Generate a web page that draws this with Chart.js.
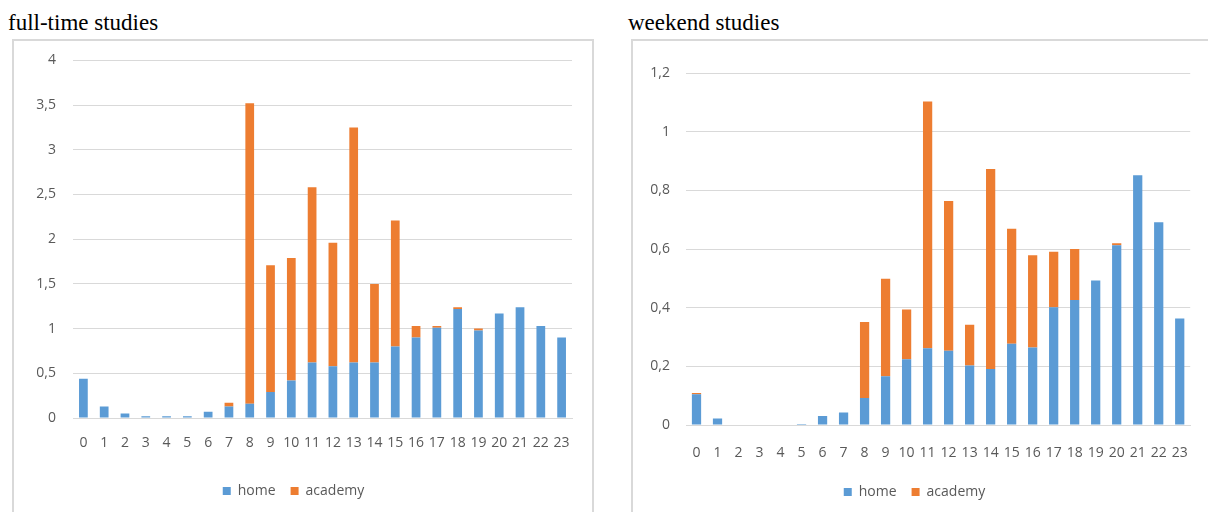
<!DOCTYPE html>
<html>
<head>
<meta charset="utf-8">
<script src="https://cdn.jsdelivr.net/npm/chart.js@4.4.1/dist/chart.umd.min.js"></script>
<style>
  html, body { margin: 0; padding: 0; background: #ffffff; }
  body { width: 1208px; height: 512px; position: relative; overflow: hidden; }
  .title { position: absolute; font-family: "Liberation Serif", "Times New Roman", serif; font-size: 23px; color: #000; line-height: 1; white-space: nowrap; }
  .frame { position: absolute; border: 2px solid #d9d9d9; border-bottom: none; box-sizing: border-box; }
  canvas { position: absolute; }
</style>
</head>
<body>
<div class="title" style="left:8px; top:11px;">full-time studies</div>
<div class="title" style="left:628px; top:11px;">weekend studies</div>
<div class="frame" style="left:12px; top:39px; width:582px; height:480px;"></div>
<div class="frame" style="left:631px; top:39px; width:600px; height:480px;"></div>
<canvas id="fulltime" width="576" height="477" style="left:15px; top:35px; width:576px; height:477px;"></canvas>
<canvas id="weekend" width="574" height="470" style="left:634px; top:42px; width:574px; height:470px;"></canvas>
<script>
// Hour of day on the category axis
const hours = ['0','1','2','3','4','5','6','7','8','9','10','11','12','13','14','15','16','17','18','19','20','21','22','23'];

// Full-time studies: average hours spent, by hour of day
const fullTimeHome    = [0.44, 0.13, 0.05, 0.02, 0.02, 0.02, 0.07, 0.13, 0.16, 0.29, 0.42, 0.62, 0.58, 0.62, 0.62, 0.80, 0.90, 1.01, 1.22, 0.98, 1.17, 1.24, 1.03, 0.90];
const fullTimeAcademy = [0, 0, 0, 0, 0, 0, 0, 0.04, 3.36, 1.42, 1.37, 1.96, 1.38, 2.63, 0.88, 1.41, 0.13, 0.02, 0.02, 0.02, 0, 0, 0, 0];

// Weekend studies: average hours spent, by hour of day
const weekendHome    = [0.105, 0.022, 0, 0, 0, 0.003, 0.031, 0.043, 0.092, 0.166, 0.224, 0.262, 0.253, 0.203, 0.191, 0.277, 0.264, 0.401, 0.426, 0.493, 0.613, 0.851, 0.691, 0.363];
const weekendAcademy = [0.004, 0, 0, 0, 0, 0, 0, 0, 0.259, 0.333, 0.170, 0.841, 0.511, 0.139, 0.682, 0.392, 0.315, 0.190, 0.174, 0, 0.007, 0, 0, 0];

// Value axis ranges
const fullTimeAxis = { max: 4, step: 0.5 };
const weekendAxis  = { max: 1.2, step: 0.2 };

const HOME_COLOR = '#5B9BD5';
const ACADEMY_COLOR = '#ED7D31';
const TEXT_COLOR = '#595959';
const GRID_COLOR = '#d9d9d9';

Chart.defaults.font.family = '"Open Sans", "Noto Sans", sans-serif';
Chart.defaults.font.size = 14;
Chart.defaults.color = TEXT_COLOR;

function commaDecimal(v) {
  const r = Math.round(v * 10) / 10;
  return String(r).replace('.', ',');
}

function stackedHours(canvasId, home, academy, axis, geo) {
  return new Chart(document.getElementById(canvasId), {
    type: 'bar',
    data: {
      labels: hours,
      datasets: [
        { label: 'home', data: home, backgroundColor: HOME_COLOR,
          categoryPercentage: 1, barPercentage: geo.bar },
        { label: 'academy', data: academy, backgroundColor: ACADEMY_COLOR,
          categoryPercentage: 1, barPercentage: geo.bar }
      ]
    },
    options: {
      responsive: false,
      animation: false,
      devicePixelRatio: 1,
      layout: { padding: { top: geo.top, right: geo.right, bottom: geo.bottom, left: 0 } },
      plugins: {
        tooltip: { enabled: false },
        legend: {
          position: 'bottom',
          labels: { boxWidth: 8, boxHeight: 8, padding: 15, color: TEXT_COLOR,
                    font: { size: 14 } }
        }
      },
      scales: {
        x: {
          stacked: true,
          grid: { display: false, drawTicks: false },
          border: { display: true, color: GRID_COLOR, width: 1 },
          ticks: { autoSkip: false, maxRotation: 0, padding: geo.xPad, color: TEXT_COLOR },
          afterFit: s => { s.height = geo.xHeight; }
        },
        y: {
          stacked: true,
          min: 0,
          max: axis.max,
          grid: { color: GRID_COLOR, lineWidth: 1, drawTicks: false },
          border: { display: false },
          ticks: { stepSize: axis.step, padding: geo.yPad, color: TEXT_COLOR,
                   callback: v => commaDecimal(v) },
          afterFit: s => { s.width = geo.yWidth; }
        }
      }
    }
  });
}

stackedHours('fulltime', fullTimeHome, fullTimeAcademy, fullTimeAxis,
  { top: 11, right: 19, bottom: 4, yWidth: 58, yPad: 17, xHeight: 51, xPad: 17, bar: 0.42 });
stackedHours('weekend', weekendHome, weekendAcademy, weekendAxis,
  { top: 31, right: 13, bottom: 3, yWidth: 52, yPad: 16, xHeight: 45, xPad: 20, bar: 0.44 });
</script>
</body>
</html>
